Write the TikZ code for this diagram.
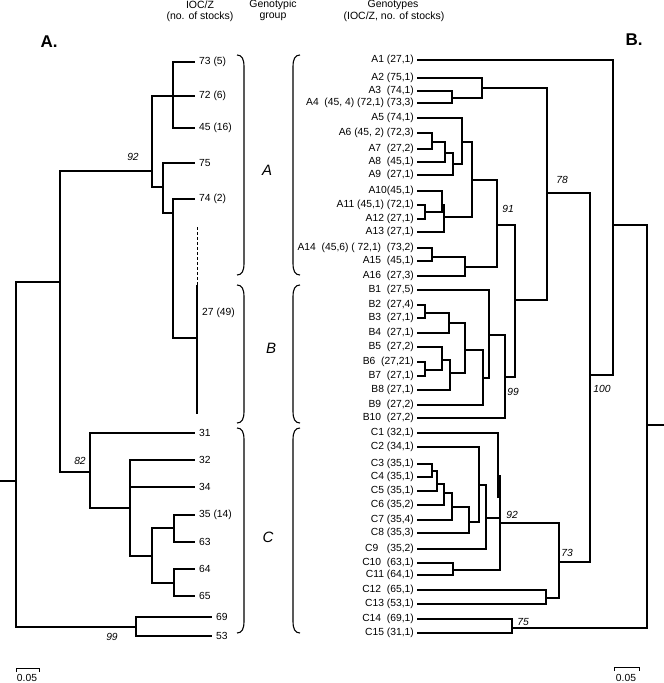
\documentclass[tikz,border=0pt]{standalone}
\usepackage{fontspec}
\setmainfont{Liberation Sans}
\newcommand\lfB[3]{\coordinate (#1) at (417,#2); \node[lab,anchor=east] (#1l) at (414,#2) {#3};}
\newcommand\lfA[4]{\coordinate (#1) at (#2,#3); \node[lab,anchor=west] (#1l) at ({#2+4},#3) {#4};}
\newcommand\jn[2]{\draw[br] (#1) |- (#2);}
\begin{document}
\begin{tikzpicture}[x=1pt,y=-1pt,
  br/.style={line width=1.4pt},
  lab/.style={font=\fontsize{10.3}{12}\selectfont, inner sep=0pt},
  bs/.style={font=\fontsize{10.3}{12}\selectfont\itshape, inner sep=0pt},
  grp/.style={font=\fontsize{15}{18}\selectfont\itshape, inner sep=0pt},
  hd/.style={font=\fontsize{10.5}{12}\selectfont, inner sep=0pt},
  ttl/.style={font=\fontsize{17}{20}\selectfont\bfseries, inner sep=0pt},
  bracket/.style={line width=1.1pt},
  scb/.style={line width=1pt}]
\useasboundingbox (0,0) rectangle (664,683);

% headers
\node[hd] (h1) at (200,5) {IOC/Z};
\node[hd] (h2) at (200,17) {(no. of stocks)};
\node[hd] (h3) at (273,5) {Genotypic};
\node[hd] (h4) at (273,17) {group};
\node[hd] (h5) at (393,5) {Genotypes};
\node[hd] (h6) at (394,17) {(IOC/Z, no. of stocks)};
\node[ttl] (tA) at (49,42) {A.};
\node[ttl] (tB) at (634,40) {B.};

% ---------- tree A ----------
\lfA{t73}{195}{62}{73 (5)}
\lfA{t72}{195}{96}{72 (6)}
\lfA{t45}{195}{128}{45 (16)}
\lfA{t75}{195}{163}{75}
\lfA{t74}{195}{199}{74 (2)}
\lfA{t31}{195}{433}{31}
\lfA{t32}{195}{460}{32}
\lfA{t34}{195}{487}{34}
\lfA{t35}{195}{515}{35 (14)}
\lfA{t63}{195}{542}{63}
\lfA{t64}{195}{569}{64}
\lfA{t65}{195}{596}{65}
\lfA{t69}{212}{617}{69}
\lfA{t53}{212}{636}{53}

\coordinate (n7345) at (173,96);
\coordinate (nAtop) at (152,171);
\coordinate (nA75) at (163,187);
\coordinate (nA74) at (173,213);
\coordinate (n27) at (197,338);
\coordinate (c27dash) at (197,227);
\coordinate (c27top) at (197,285);
\coordinate (c27bot) at (197,414);
\coordinate (nAroot) at (60,282);
\coordinate (n82) at (90,472);
\coordinate (n130) at (130,508);
\coordinate (n152) at (152,556);
\coordinate (n3563) at (174,528);
\coordinate (n6465) at (174,583);
\coordinate (n6953) at (136,627);
\coordinate (rootA) at (16,481);
\coordinate (stubA) at (0,481);

\jn{n7345}{t73} \jn{n7345}{t45}
\jn{nAtop}{t72} \jn{nAtop}{n7345} \jn{nAtop}{nA75}
\jn{nA75}{t75} \jn{nA75}{nA74}
\jn{nA74}{t74} \jn{nA74}{n27}
\draw[br] (c27top) -- (c27bot);
\draw[line width=1pt, dash pattern=on 3pt off 2pt] (c27dash) -- (c27top);
\node[lab,anchor=west] (l27) at (202,313) {27 (49)};
\jn{nAroot}{nAtop} \jn{nAroot}{n82}
\jn{n82}{t31} \jn{n82}{n130}
\jn{n130}{t32} \jn{n130}{t34} \jn{n130}{n152}
\jn{n152}{n3563} \jn{n152}{n6465}
\jn{n3563}{t35} \jn{n3563}{t63}
\jn{n6465}{t64} \jn{n6465}{t65}
\jn{n6953}{t69} \jn{n6953}{t53}
\jn{rootA}{nAroot} \jn{rootA}{n6953}
\draw[br] (stubA) -- (rootA);

\node[bs] (bA92) at (133,157) {92};
\node[bs] (bA82) at (80,461) {82};
\node[bs] (bA99) at (112,637) {99};

% group brackets and letters
\foreach \a/\b in {55/275, 285/423, 428/633}{
  \draw[bracket] (237,\a) .. controls (242,\a) and (244,{\a+4}) .. (244,{\a+12})
     -- (244,{\b-12}) .. controls (244,{\b-4}) and (242,\b) .. (237,\b);
  \draw[bracket] (300,\a) .. controls (295,\a) and (293,{\a+4}) .. (293,{\a+12})
     -- (293,{\b-12}) .. controls (293,{\b-4}) and (295,\b) .. (300,\b);
}
\node[grp] (gA) at (267,170) {A};
\node[grp] (gB) at (271,348) {B};
\node[grp] (gC) at (268,537) {C};

% ---------- tree B ----------
\lfB{A1}{60}{A1 (27,1)}
\lfB{A2}{78}{A2 (75,1)}
\lfB{A3}{91}{A3~~(74,1)}
\lfB{A4}{103}{A4~~(45, 4) (72,1) (73,3)}
\lfB{A5}{118}{A5 (74,1)}
\lfB{A6}{133}{A6 (45, 2) (72,3)}
\lfB{A7}{149}{A7~~(27,2)}
\lfB{A8}{162}{A8~~(45,1)}
\lfB{A9}{175}{A9~~(27,1)}
\lfB{A10}{191}{A10(45,1)}
\lfB{A11}{205}{A11 (45,1) (72,1)}
\lfB{A12}{219}{A12 (27,1)}
\lfB{A13}{232}{A13 (27,1)}
\lfB{A14}{248}{A14~~(45,6) ( 72,1)~~(73,2)}
\lfB{A15}{261}{A15~~(45,1)}
\lfB{A16}{276}{A16~~(27,3)}
\lfB{B1}{290}{B1~~(27,5)}
\lfB{B2}{305}{B2~~(27,4)}
\lfB{B3}{318}{B3~~(27,1)}
\lfB{B4}{333}{B4~~(27,1)}
\lfB{B5}{347}{B5~~(27,2)}
\lfB{B6}{362}{B6~~(27,21)}
\lfB{B7}{376}{B7~~(27,1)}
\lfB{B8}{390}{B8 (27,1)}
\lfB{B9}{405}{B9~~(27,2)}
\lfB{B10}{418}{B10~~(27,2)}
\lfB{C1}{433}{C1 (32,1)}
\lfB{C2}{447}{C2 (34,1)}
\lfB{C3}{464}{C3 (35,1)}
\lfB{C4}{477}{C4 (35,1)}
\lfB{C5}{491}{C5 (35,1)}
\lfB{C6}{505}{C6 (35,2)}
\lfB{C7}{520}{C7 (35,4)}
\lfB{C8}{533}{C8 (35,3)}
\lfB{C9}{549}{C9~~~(35,2)}
\lfB{C10}{563}{C10~~(63,1)}
\lfB{C11}{575}{C11 (64,1)}
\lfB{C12}{590}{C12~~(65,1)}
\lfB{C13}{604}{C13 (53,1)}
\lfB{C14}{619}{C14~~(69,1)}
\lfB{C15}{633}{C15 (31,1)}

\coordinate (nA34) at (452,98);
\coordinate (nA234) at (482,88);
\coordinate (nA67) at (432,142);
\coordinate (nA678) at (445,153);
\coordinate (nA6789) at (453,164);
\coordinate (nA59) at (462,142);
\coordinate (nA1112) at (425,212);
\coordinate (nA1012) at (442,205);
\coordinate (nA1013) at (444,217);
\coordinate (nA513) at (472,180);
\coordinate (nA1415) at (432,257);
\coordinate (nA1416) at (465,267);
\coordinate (n91) at (497,225);
\coordinate (nB23) at (425,313);
\coordinate (nB234) at (449,323);
\coordinate (nB67) at (425,370);
\coordinate (nB567) at (442,360);
\coordinate (nB58) at (450,373);
\coordinate (nB28) at (465,350);
\coordinate (nB29) at (483,378);
\coordinate (nB19) at (489,335);
\coordinate (n99) at (505,377);
\coordinate (nAB) at (515,300);
\coordinate (n78) at (547,193);
\coordinate (nC34) at (432,471);
\coordinate (nC35) at (437,484);
\coordinate (nC36) at (444,493);
\coordinate (nC37) at (452,507);
\coordinate (nC38) at (469,522);
\coordinate (nC28) at (479,485);
\coordinate (nC29) at (486,518);
\coordinate (nC1011) at (453,570);
\coordinate (n92) at (500,523);
\coordinate (n92top) at (500,475);
\coordinate (nC1) at (498,498);
\coordinate (nC1213) at (546,598);
\coordinate (n73) at (559,562);
\coordinate (n100) at (590,375);
\coordinate (nTop) at (613,225);
\coordinate (nC1415) at (512,628);
\coordinate (nRootB) at (647,425);
\coordinate (stubB) at (664,425);

\jn{nA34}{A3} \jn{nA34}{A4}
\jn{nA234}{A2} \jn{nA234}{nA34}
\jn{nA67}{A6} \jn{nA67}{A7}
\jn{nA678}{nA67} \jn{nA678}{A8}
\jn{nA6789}{nA678} \jn{nA6789}{A9}
\jn{nA59}{A5} \jn{nA59}{nA6789}
\jn{nA1112}{A11} \jn{nA1112}{A12}
\jn{nA1012}{A10} \jn{nA1012}{nA1112}
\jn{nA1013}{nA1012} \jn{nA1013}{A13}
\jn{nA513}{nA59} \jn{nA513}{nA1013}
\jn{nA1415}{A14} \jn{nA1415}{A15}
\jn{nA1416}{nA1415} \jn{nA1416}{A16}
\jn{n91}{nA513} \jn{n91}{nA1416}
\jn{nB23}{B2} \jn{nB23}{B3}
\jn{nB234}{nB23} \jn{nB234}{B4}
\jn{nB67}{B6} \jn{nB67}{B7}
\jn{nB567}{B5} \jn{nB567}{nB67}
\jn{nB58}{nB567} \jn{nB58}{B8}
\jn{nB28}{nB234} \jn{nB28}{nB58}
\jn{nB29}{nB28} \jn{nB29}{B9}
\jn{nB19}{B1} \jn{nB19}{nB29}
\jn{n99}{nB19} \jn{n99}{B10}
\jn{nAB}{n91} \jn{nAB}{n99}
\jn{n78}{nA234} \jn{n78}{nAB}
\jn{nC34}{C3} \jn{nC34}{C4}
\jn{nC35}{nC34} \jn{nC35}{C5}
\jn{nC36}{nC35} \jn{nC36}{C6}
\jn{nC37}{nC36} \jn{nC37}{C7}
\jn{nC38}{nC37} \jn{nC38}{C8}
\jn{nC28}{C2} \jn{nC28}{nC38}
\jn{nC29}{nC28} \jn{nC29}{C9}
\jn{nC1011}{C10} \jn{nC1011}{C11}
\jn{n92}{nC29} \jn{n92}{nC1011}
\draw[br] (n92top) -- (n92);
\jn{nC1}{C1}
\jn{nC1213}{C12} \jn{nC1213}{C13}
\jn{n73}{n92} \jn{n73}{nC1213}
\jn{n100}{n78} \jn{n100}{n73}
\jn{nTop}{A1} \jn{nTop}{n100}
\jn{nC1415}{C14} \jn{nC1415}{C15}
\jn{nRootB}{nTop} \jn{nRootB}{nC1415}
\draw[br] (nRootB) -- (stubB);

\node[bs] (b78) at (562,180) {78};
\node[bs] (b91) at (508,209) {91};
\node[bs] (b99) at (513,392) {99};
\node[bs] (b100) at (602,389) {100};
\node[bs] (b92) at (512,515) {92};
\node[bs] (b73) at (567,553) {73};
\node[bs] (b75) at (523,622) {75};

% scale bars
\coordinate (sa1) at (16,672); \coordinate (sa2) at (16,668);
\coordinate (sa3) at (39,668); \coordinate (sa4) at (39,672);
\draw[scb] (sa1) -- (sa2) -- (sa3) -- (sa4);
\node[lab] (sal) at (27,678) {0.05};
\coordinate (sb1) at (614,671); \coordinate (sb2) at (614,667);
\coordinate (sb3) at (639,667); \coordinate (sb4) at (639,671);
\draw[scb] (sb1) -- (sb2) -- (sb3) -- (sb4);
\node[lab] (sbl) at (626,678) {0.05};
\end{tikzpicture}
\end{document}
